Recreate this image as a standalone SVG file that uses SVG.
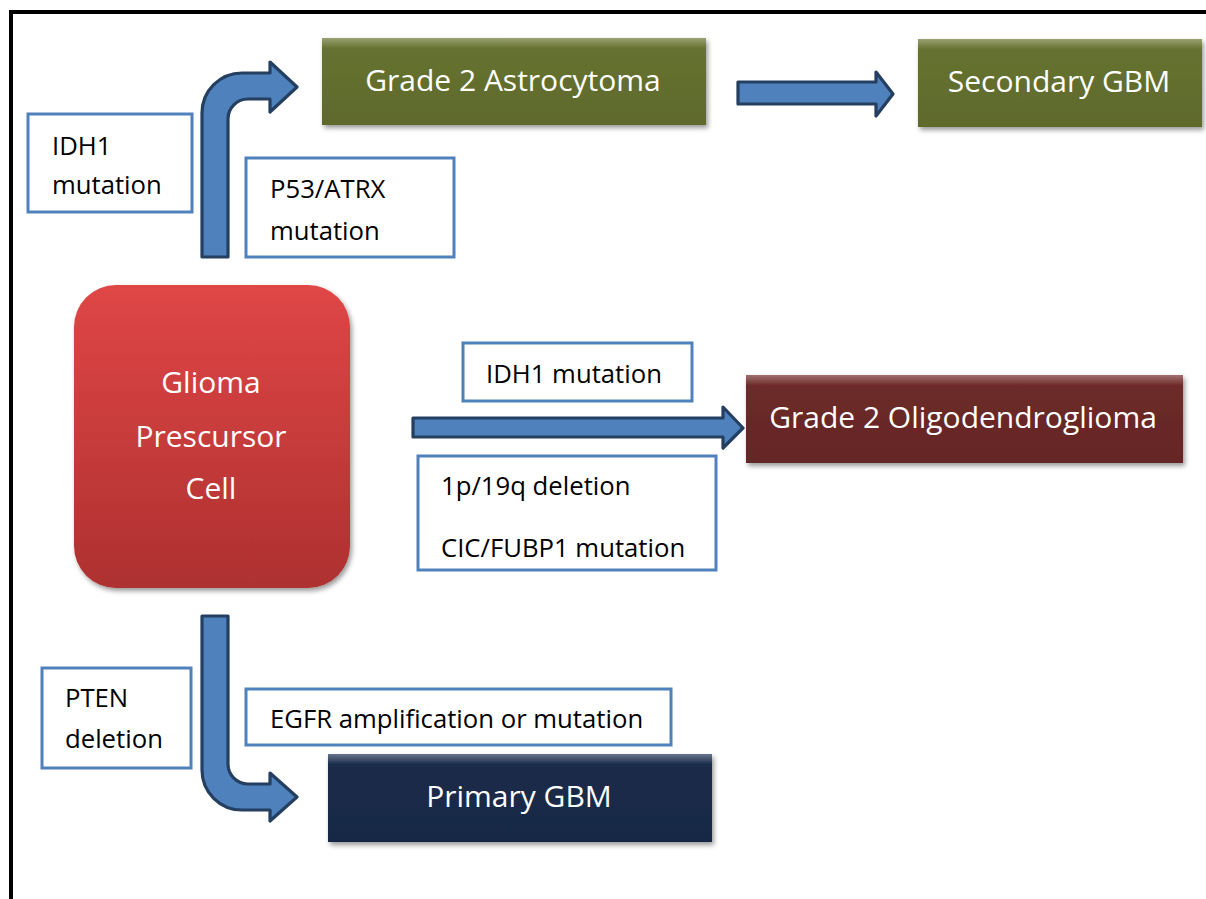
<svg xmlns="http://www.w3.org/2000/svg" width="1206" height="899" viewBox="0 0 1206 899">
<style>
.lbl{fill:#fff;stroke:#4f81bd;stroke-width:3}
.lt{font-family:"Open Sans","Liberation Sans",sans-serif;font-size:25.7px;fill:#000}
.nt{font-family:"Open Sans","Liberation Sans",sans-serif;font-size:30px;fill:#fff;text-anchor:middle}
.arr{fill:#4f81bd;stroke:#243f60;stroke-width:3.2;stroke-linejoin:round}
</style>
<defs>
<filter id="sh" x="-10%" y="-10%" width="125%" height="130%">
<feDropShadow dx="2" dy="3" stdDeviation="2.5" flood-color="#000" flood-opacity="0.4"/>
</filter>
<linearGradient id="gOlive" x1="0" y1="0" x2="0" y2="1">
<stop offset="0" stop-color="#6e7a36"/><stop offset="0.15" stop-color="#657130"/><stop offset="1" stop-color="#5f6a2c"/>
</linearGradient>
<linearGradient id="gMaroon" x1="0" y1="0" x2="0" y2="1">
<stop offset="0" stop-color="#7a3332"/><stop offset="0.15" stop-color="#6c2a29"/><stop offset="1" stop-color="#652625"/>
</linearGradient>
<linearGradient id="gNavy" x1="0" y1="0" x2="0" y2="1">
<stop offset="0" stop-color="#25385a"/><stop offset="0.15" stop-color="#1b2c4a"/><stop offset="1" stop-color="#182844"/>
</linearGradient>
<linearGradient id="gRed" x1="0" y1="0" x2="0" y2="1">
<stop offset="0" stop-color="#e04646"/><stop offset="1" stop-color="#ae3030"/>
</linearGradient>
<linearGradient id="bev" x1="0" y1="0" x2="0" y2="1">
<stop offset="0" stop-color="#fff" stop-opacity="0.3"/><stop offset="1" stop-color="#fff" stop-opacity="0"/>
</linearGradient>
</defs>

<rect x="11" y="12" width="1300" height="1000" fill="none" stroke="#000" stroke-width="4"/>

<g id="connectors">
<path class="arr" d="M202,257 L202,113 A40,40 0 0 1 242,73 L270,73 L270,62 L297,87 L270,112 L270,99 L248,99 A20,20 0 0 0 228,119 L228,257 Z"/>
<path class="arr" d="M738,82 L876,82 L876,72 L893,94 L876,116 L876,104 L738,104 Z"/>
<path class="arr" d="M413,418 L723,418 L723,407 L743,428 L723,448 L723,437 L413,437 Z"/>
<path class="arr" d="M202,616 L228,616 L228,764 A20,20 0 0 0 248,784 L270,784 L270,773 L297,797 L270,821 L270,810 L242,810 A40,40 0 0 1 202,770 Z"/>
</g>

<g id="glioma">
<rect x="74" y="285" width="276" height="303" rx="42" fill="url(#gRed)" filter="url(#sh)"/>
<text class="nt" x="211" y="393">Glioma</text>
<text class="nt" x="211" y="447">Prescursor</text>
<text class="nt" x="211" y="499">Cell</text>
</g>

<g id="astro">
<rect x="322" y="38" width="384" height="87" fill="url(#gOlive)" filter="url(#sh)"/>
<rect x="322" y="38" width="384" height="10" fill="url(#bev)"/>
<text class="nt" x="513" y="91">Grade 2 Astrocytoma</text>
</g>

<g id="secondary">
<rect x="918" y="39" width="284" height="88" fill="url(#gOlive)" filter="url(#sh)"/>
<rect x="918" y="39" width="284" height="10" fill="url(#bev)"/>
<text class="nt" x="1059" y="92">Secondary GBM</text>
</g>

<g id="oligo">
<rect x="746" y="375" width="437" height="88" fill="url(#gMaroon)" filter="url(#sh)"/>
<rect x="746" y="375" width="437" height="10" fill="url(#bev)"/>
<text class="nt" x="963" y="428">Grade 2 Oligodendroglioma</text>
</g>

<g id="primary">
<rect x="328" y="754" width="384" height="88" fill="url(#gNavy)" filter="url(#sh)"/>
<rect x="328" y="754" width="384" height="10" fill="url(#bev)"/>
<text class="nt" x="519" y="807">Primary GBM</text>
</g>

<g id="lbl-idh1-top">
<rect class="lbl" x="28" y="114" width="164" height="98"/>
<text class="lt" x="52" y="155">IDH1</text>
<text class="lt" x="52" y="194">mutation</text>
</g>

<g id="lbl-p53">
<rect class="lbl" x="246" y="158" width="208" height="99"/>
<text class="lt" x="270" y="198">P53/ATRX</text>
<text class="lt" x="270" y="240">mutation</text>
</g>

<g id="lbl-idh1-mid">
<rect class="lbl" x="463" y="343" width="229" height="58"/>
<text class="lt" x="486" y="383">IDH1 mutation</text>
</g>

<g id="lbl-1p19q">
<rect class="lbl" x="418" y="456" width="298" height="114"/>
<text class="lt" x="441" y="495">1p/19q deletion</text>
<text class="lt" x="441" y="557">CIC/FUBP1 mutation</text>
</g>

<g id="lbl-pten">
<rect class="lbl" x="42" y="668" width="149" height="100"/>
<text class="lt" x="65" y="707">PTEN</text>
<text class="lt" x="65" y="748">deletion</text>
</g>

<g id="lbl-egfr">
<rect class="lbl" x="246" y="689" width="425" height="56"/>
<text class="lt" x="270" y="728">EGFR amplification or mutation</text>
</g>
</svg>
